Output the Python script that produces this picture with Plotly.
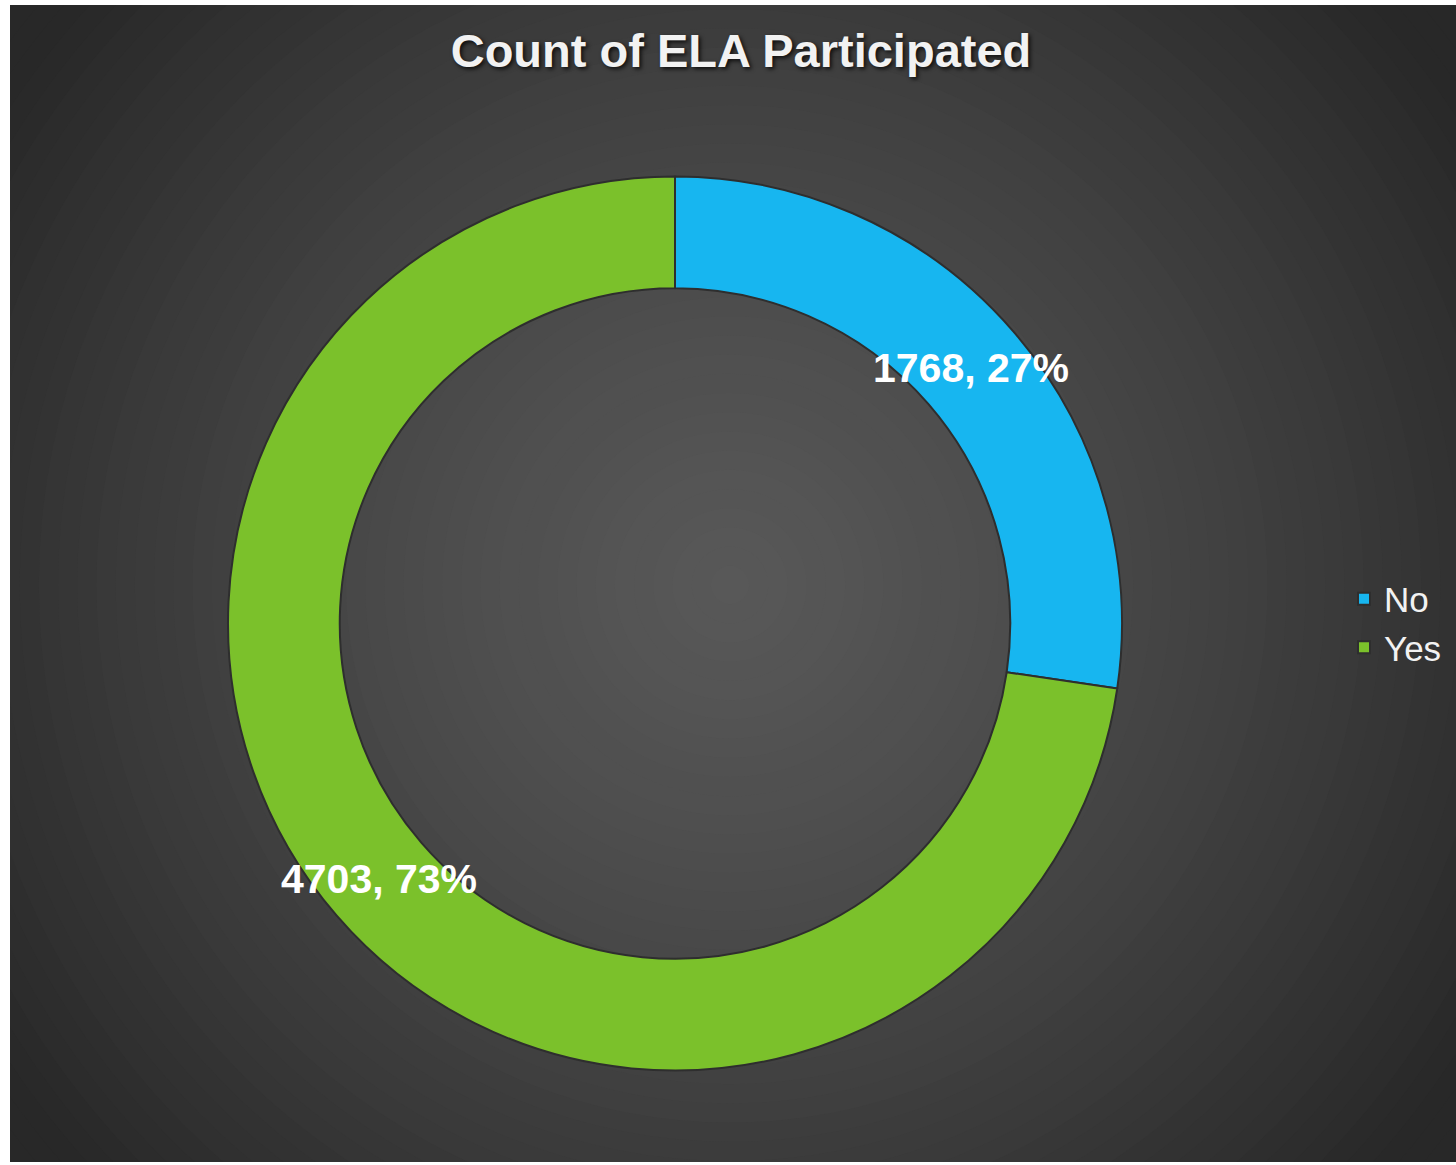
import math
import plotly.graph_objects as go


# ==========================================================
# Data
# ==========================================================

labels = ["No", "Yes"]
counts = [1768, 4703]
slice_colors = ["#17b6f0", "#7bc12b"]

title_text = "Count of ELA Participated"

W = 1456
H = 1165

# donut geometry in pixels
CX, CY = 675, 623.5
R_OUT = 447
HOLE = 0.75


# ==========================================================
# Background (radial gradient built from circles)
# ==========================================================

def gradient_shapes(cx, cy, steps=50, r_max=960):

    shapes = []

    for i in range(steps):
        r = r_max * (1 - i / steps)
        t = min(r / 862, 1.08)
        v = int(round(88 - 47 * t ** 1.3))
        v = max(v, 40)
        shapes.append(dict(
            type="circle",
            xref="paper",
            yref="paper",
            xsizemode="pixel",
            ysizemode="pixel",
            xanchor=cx / W,
            yanchor=1 - cy / H,
            x0=-r, x1=r, y0=-r, y1=r,
            fillcolor=f"rgb({v},{v},{v})",
            line=dict(width=0),
            layer="below"
        ))

    return shapes


def border_shapes():

    white = dict(fillcolor="white", line=dict(width=0), layer="above",
                 type="rect", xref="paper", yref="paper")

    return [
        dict(white, x0=0, x1=10 / W, y0=0, y1=1),
        dict(white, x0=0, x1=1, y0=1 - 5 / H, y1=1),
        dict(white, x0=0, x1=1, y0=0, y1=3 / H),
    ]


# ==========================================================
# Data labels at the middle of the ring
# ==========================================================

def ring_labels(values):

    total = sum(values)
    r_mid = R_OUT * (1 + HOLE) / 2
    notes = []
    start = 0

    for v in values:
        mid = (start + v / 2) / total * 2 * math.pi
        start += v
        px = CX + r_mid * math.sin(mid)
        py = CY - r_mid * math.cos(mid)
        notes.append(dict(
            x=px / W,
            y=1 - py / H,
            xref="paper",
            yref="paper",
            text=f"<b>{v}, {round(100 * v / total)}%</b>",
            showarrow=False,
            xanchor="center",
            yanchor="middle",
            font=dict(
                family="Liberation Sans, Arial, sans-serif",
                size=41,
                color="white"
            )
        ))

    return notes


# ==========================================================
# Donut Chart
# ==========================================================

fig = go.Figure(
    go.Pie(
        labels=labels,
        values=counts,
        hole=HOLE,
        sort=False,
        direction="clockwise",
        rotation=0,
        marker=dict(
            colors=slice_colors,
            line=dict(color="#2e2e2e", width=2)
        ),
        textinfo="none",
        domain=dict(
            x=[(CX - R_OUT) / W, (CX + R_OUT) / W],
            y=[1 - (CY + R_OUT) / H, 1 - (CY - R_OUT) / H]
        ),
        hoverinfo="label+value+percent"
    )
)

fig.update_layout(
    width=W,
    height=H,
    paper_bgcolor="rgb(40,40,40)",
    plot_bgcolor="rgb(40,40,40)",
    margin=dict(l=0, r=0, t=0, b=0),
    title=dict(
        text=f"<b>{title_text}</b>",
        x=741 / W,
        xanchor="center",
        y=1 - 51 / H,
        yanchor="middle",
        yref="paper",
        font=dict(
            family="Liberation Sans, Arial, sans-serif",
            size=47,
            color="#f2f2f2",
            shadow="2px 2px 4px rgba(0,0,0,0.8)"
        )
    ),
    legend=dict(
        x=1344 / W,
        xanchor="left",
        y=1 - 623 / H,
        yanchor="middle",
        bgcolor="rgba(0,0,0,0)",
        font=dict(
            family="Liberation Sans, Arial, sans-serif",
            size=35,
            color="#f2f2f2"
        )
    ),
    annotations=ring_labels(counts),
    shapes=gradient_shapes(730, 585) + border_shapes()
)

fig.write_html(
    "out.html",
    config=dict(displayModeBar=False),
    post_script="document.body.style.margin='0';"
)
